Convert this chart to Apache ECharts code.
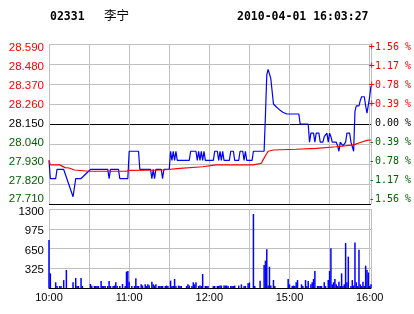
<!DOCTYPE html>
<html><head><meta charset="utf-8">
<script src="https://cdn.jsdelivr.net/npm/echarts@6/dist/echarts.min.js"></script>
<style>html,body{margin:0;padding:0;background:#fff}#c{width:414px;height:314px}</style>
</head><body><div id="c"></div>
<script>
// ---- header texts ----
const stockCode = '02331';
const stockName = '李宁';
const timestamp = '2010-04-01 16:03:27';
const prevClose = 28.15;

// ---- time axis (trading minutes since 10:00; 12:30 and 14:30 share minute 150) ----
const tickMinutes = [0, 60, 120, 180, 240];
const tickLabels = ['10:00', '11:00', '12:00', '15:00', '16:00'];

// ---- price line ----
const priceMinutes = [0,1,5,6,11,18,20,24,31,44,45,46,52,53,59,60,67,68,76,77,78,79,80,84,85,86,90,91,92,93,94,95,96,105,106,110,111,112,113,114,115,116,117,123,124,126,127,128,129,130,131,135,136,138,139,142,143,145,146,147,148,152,153,161,162,163,164,165,166,167,168,170,173,175,178,187,188,194,195,196,198,199,200,202,203,205,206,208,209,210,211,212,215,216,217,218,220,221,222,223,225,226,227,228,229,230,231,232,233,234,236,237,238,239,240,241];
const prices = [27.95,27.85,27.85,27.90,27.90,27.75,27.85,27.85,27.90,27.90,27.85,27.90,27.90,27.85,27.85,28.00,28.00,27.90,27.90,27.85,27.90,27.85,27.90,27.90,27.85,27.90,27.90,28.00,27.95,28.00,27.95,28.00,27.95,27.95,28.00,28.00,27.95,28.00,27.95,28.00,27.95,28.00,27.95,27.95,28.00,28.00,27.95,28.00,27.95,28.00,27.95,27.95,28.00,28.00,27.95,27.95,28.00,28.00,27.95,28.00,27.95,27.95,28.00,28.00,28.20,28.42,28.45,28.44,28.40,28.40,28.26,28.245,28.225,28.215,28.205,28.205,28.15,28.15,28.05,28.10,28.10,28.05,28.10,28.10,28.05,28.05,28.08,28.10,28.05,28.10,28.08,28.05,28.05,28.03,28.00,28.05,28.03,28.03,28.05,28.10,28.10,28.05,28.05,28.00,28.22,28.25,28.245,28.25,28.28,28.30,28.30,28.25,28.21,28.21,28.30,28.36];

// ---- average price line ----
const avgMinutes = [0,1,8,12,15,19,30,58,60,85,98,115,125,153,159,160,162,164,168,185,200,215,228,233,238,241];
const avgPrices = [27.95,27.925,27.925,27.91,27.908,27.897,27.89,27.89,27.895,27.897,27.906,27.915,27.925,27.925,27.934,27.95,27.975,28.00,28.007,28.011,28.016,28.025,28.035,28.048,28.06,28.062];

// ---- volume bars ----
const volMinutes = [0,1,5,6,8,9,11,13,18,20,21,22,24,25,31,32,34,35,36,37,39,40,41,42,44,45,46,48,49,50,51,53,55,57,58,59,60,62,64,65,66,67,69,70,72,73,74,75,77,78,79,80,82,83,84,85,87,88,89,91,92,93,94,95,97,98,99,103,104,105,107,108,109,110,112,113,114,115,117,118,119,123,124,126,127,128,129,131,132,133,134,136,137,138,139,142,144,146,147,149,150,153,154,158,161,162,163,164,165,166,168,169,179,180,182,183,184,185,186,189,190,192,193,194,196,197,198,199,201,202,203,204,206,207,209,210,211,212,213,214,215,216,217,218,219,220,221,222,223,224,226,227,228,229,230,231,232,233,234,235,236,237,238,239,240,241];
const volumes = [790,241,94,33,33,33,130,296,94,165,33,33,165,33,66,38,33,33,33,33,115,33,33,33,33,115,33,33,40,94,33,33,66,33,269,280,104,33,33,160,33,33,60,40,60,33,60,40,104,60,40,60,33,33,33,33,33,40,33,121,33,33,148,33,40,33,33,33,60,40,33,94,60,94,33,40,33,230,33,33,33,33,33,33,33,40,40,40,40,40,33,33,33,33,40,40,60,33,33,77,90,1218,33,121,378,450,637,40,350,40,131,33,148,60,33,40,33,94,131,60,33,131,33,115,60,94,148,280,33,33,33,33,94,33,131,280,653,60,94,148,60,33,104,33,241,33,60,740,94,516,33,131,40,750,94,33,630,60,33,104,33,367,296,255,33,60];

// ---- axis steps ----
const priceStepCents = 11;
const priceRangeCents = 44;
const volMax = 1300;
const volStep = 325;

const chart = echarts.init(document.getElementById('c'), null, {renderer: 'canvas'});
const toCents = p => (p - prevClose) * 100;
const GRAY = '#c0c0c0';
const RED = '#ff0000', GREEN = '#006000', BLACK = '#000000';
const colorFor = v => { v = Number(v); return v > 1e-9 ? RED : (v < -1e-9 ? GREEN : BLACK); };
const L = 49, W = 322;

const priceSplitColors = [];
for (let v = -priceRangeCents; v <= priceRangeCents + 1e-9; v += priceStepCents) {
  priceSplitColors.push((v === -priceRangeCents || v === 0) ? BLACK : GRAY);
}
const volSplitColors = [BLACK, GRAY, GRAY, GRAY, GRAY];

const hdrFont = {fontFamily: 'DejaVu Sans Mono', fontWeight: 'bold', fontSize: 11.5, color: '#000'};

const option = {
  animation: false,
  backgroundColor: '#fff',
  title: [
    {text: stockCode, left: 50, top: 11, padding: 0, textStyle: hdrFont},
    {text: stockName, left: 104, top: 9, padding: 0, textStyle: {fontFamily: 'Noto Sans CJK SC', fontWeight: 'normal', fontSize: 12.5, color: '#000'}},
    {text: timestamp, left: 237, top: 11, padding: 0, textStyle: hdrFont}
  ],
  grid: [
    {left: L, top: 44, width: W, height: 160, containLabel: false},
    {left: L, top: 209, width: W, height: 79, containLabel: false},
    {left: L, top: 47.7, width: W, height: 151.6, containLabel: false},
    {left: L, top: 212, width: W, height: 77.3, containLabel: false}
  ],
  xAxis: [0, 1, 2, 3].map(i => ({
    type: 'value', gridIndex: i, min: 0, max: 241, interval: 30,
    axisLine: {show: i === 1, onZero: false, lineStyle: {color: BLACK, width: 1}},
    axisTick: {show: false},
    splitLine: {show: i < 2, lineStyle: {color: GRAY, width: 1}},
    axisLabel: {
      show: i === 1, margin: 4, fontFamily: 'Liberation Sans', fontSize: 11, color: BLACK,
      formatter: v => { const k = tickMinutes.indexOf(Number(v)); return k >= 0 ? tickLabels[k] : ''; }
    }
  })),
  yAxis: [
    {type: 'value', gridIndex: 0, min: -priceRangeCents, max: priceRangeCents, interval: priceStepCents,
     axisLine: {show: false}, axisTick: {show: false}, axisLabel: {show: false},
     splitLine: {show: true, lineStyle: {color: priceSplitColors, width: 1}}},
    {type: 'value', gridIndex: 1, min: 0, max: volMax, interval: volStep,
     axisLine: {show: false}, axisTick: {show: false}, axisLabel: {show: false},
     splitLine: {show: true, lineStyle: {color: volSplitColors, width: 1}}},
    {type: 'value', gridIndex: 2, position: 'left', min: -priceRangeCents, max: priceRangeCents, interval: priceStepCents,
     axisLine: {show: false}, axisTick: {show: false}, splitLine: {show: false},
     axisLabel: {margin: 5, fontFamily: 'Liberation Sans', fontSize: 11.5,
       color: v => colorFor(v),
       formatter: v => (prevClose + Number(v) / 100).toFixed(3)}},
    {type: 'value', gridIndex: 2, position: 'right', min: -priceRangeCents, max: priceRangeCents, interval: priceStepCents,
     axisLine: {show: false}, axisTick: {show: false}, splitLine: {show: false},
     axisLabel: {margin: 1, align: 'left', fontFamily: 'DejaVu Sans Mono', fontSize: 10,
       color: v => colorFor(v),
       formatter: v => {
         v = Number(v);
         const pct = (Math.abs(v) / 100 / prevClose * 100).toFixed(2);
         if (v > 1e-9) return '+' + pct + ' %';
         if (v < -1e-9) return '-' + pct + ' %';
         return ' 0.00 %';
       }}},
    {type: 'value', gridIndex: 3, position: 'left', min: 0, max: volMax, interval: volStep,
     axisLine: {show: false}, axisTick: {show: false}, splitLine: {show: false},
     axisLabel: {margin: 5, fontFamily: 'Liberation Sans', fontSize: 11.5, color: BLACK,
       formatter: v => Number(v) === 0 ? '' : String(v)}}
  ],
  series: [
    {type: 'bar', xAxisIndex: 1, yAxisIndex: 1, barWidth: 1.5, silent: true,
     itemStyle: {color: '#0000ff'},
     data: volMinutes.map((m, i) => [m, volumes[i]])},
    {type: 'line', xAxisIndex: 0, yAxisIndex: 0, symbol: 'none', silent: true, z: 3,
     lineStyle: {color: '#0000ff', width: 1.2},
     data: priceMinutes.map((m, i) => [m, toCents(prices[i])])},
    {type: 'line', xAxisIndex: 0, yAxisIndex: 0, symbol: 'none', silent: true, z: 4,
     lineStyle: {color: '#ff0000', width: 1.2},
     data: avgMinutes.map((m, i) => [m, toCents(avgPrices[i])])}
  ]
};
chart.setOption(option);
</script>
</body></html>
